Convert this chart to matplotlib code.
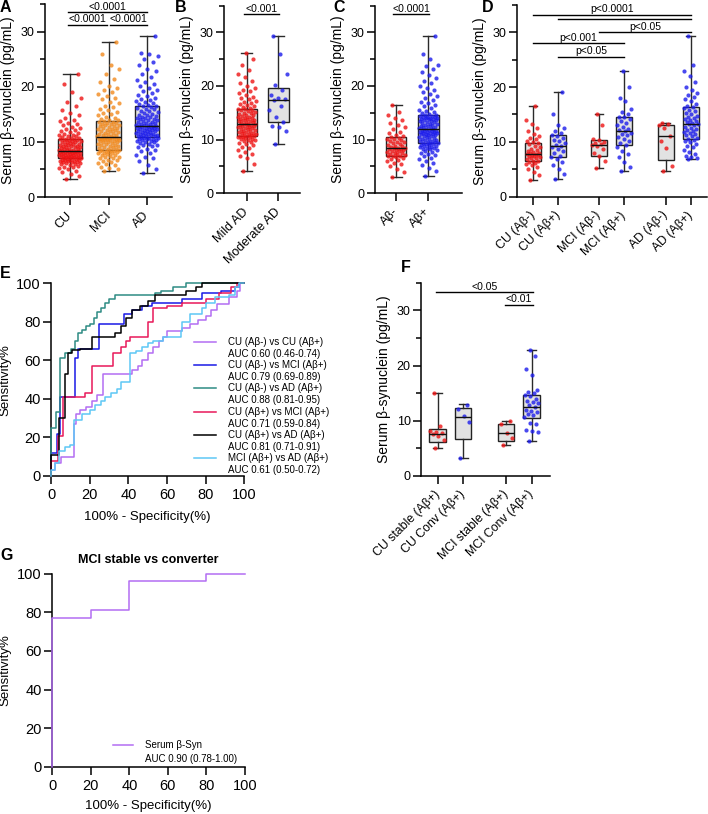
import numpy as np
import matplotlib
matplotlib.use("Agg")
import matplotlib.pyplot as plt
from matplotlib.ticker import MultipleLocator

plt.rcParams['font.family'] = ['Liberation Sans', 'DejaVu Sans']

# Figure size in pixels (dpi 100)
W, H = 708, 814

RED = '#ee1414'
ORANGE = '#f28a1e'
BLUE = '#1c1cec'

# ---------------- Panel A: CU / MCI / AD ----------------
a_labels = ['CU', 'MCI', 'AD']
a_cu = [3.3, 3.8, 4.2, 4.5, 4.8, 5.0, 5.2, 5.4, 5.5, 5.7, 5.8, 5.9, 6.0, 6.1, 6.2, 6.3, 6.3, 6.4, 6.5, 6.5,
        6.6, 6.7, 6.7, 6.8, 6.8, 6.9, 6.9, 7.0, 7.0, 7.1, 7.1, 7.2, 7.2, 7.3, 7.3, 7.4, 7.4, 7.5, 7.5, 7.5,
        7.6, 7.6, 7.7, 7.7, 7.8, 7.8, 7.9, 7.9, 8.0, 8.0, 8.0, 8.1, 8.1, 8.2, 8.2, 8.2, 8.3, 8.3, 8.4, 8.4,
        8.5, 8.5, 8.6, 8.7, 8.7, 8.8, 8.9, 9.0, 9.0, 9.1, 9.2, 9.3, 9.3, 9.4, 9.5, 9.6, 9.6, 9.7, 9.8, 9.9,
        10.0, 10.0, 10.1, 10.2, 10.3, 10.3, 10.4, 10.5, 10.5, 10.6, 10.7, 10.8, 10.9, 11.0, 11.1, 11.2, 11.3,
        11.5, 11.6, 11.8, 12.0, 12.1, 12.3, 12.5, 12.7, 13.0, 13.2, 13.5, 13.8, 14.0, 14.3, 14.8, 15.2, 15.8,
        16.5, 17.2, 18.0, 19.0, 20.5, 22.4]
a_mci = [4.7, 5.0, 5.3, 5.5, 5.8, 6.0, 6.2, 6.4, 6.5, 6.7, 6.8, 7.0, 7.1, 7.2, 7.3, 7.5, 7.6, 7.7, 7.8, 7.9,
         8.0, 8.0, 8.1, 8.2, 8.3, 8.3, 8.4, 8.5, 8.5, 8.6, 8.7, 8.8, 8.9, 9.0, 9.1, 9.2, 9.3, 9.4, 9.5, 9.6,
         9.7, 9.8, 9.9, 10.0, 10.0, 10.1, 10.2, 10.3, 10.3, 10.4, 10.5, 10.5, 10.6, 10.6, 10.7, 10.7, 10.8,
         10.8, 10.8, 10.9, 10.9, 11.0, 11.1, 11.2, 11.3, 11.4, 11.5, 11.6, 11.7, 11.8, 11.9, 12.0, 12.1, 12.2,
         12.3, 12.4, 12.5, 12.6, 12.7, 12.8, 12.9, 13.0, 13.1, 13.2, 13.3, 13.4, 13.5, 13.6, 13.7, 13.8, 13.9,
         14.0, 14.2, 14.4, 14.6, 14.8, 15.0, 15.2, 15.5, 15.8, 16.0, 16.3, 16.6, 17.0, 17.3, 17.7, 18.0, 18.3,
         18.7, 19.0, 19.4, 19.8, 20.2, 20.8, 21.5, 22.3, 23.2, 24.0, 26.0, 28.2]
a_ad = [4.3, 5.0, 5.8, 6.5, 7.0, 7.3, 7.7, 8.0, 8.3, 8.6, 8.8, 9.0, 9.2, 9.4, 9.5, 9.7, 9.8, 9.9, 10.0, 10.1,
        10.2, 10.3, 10.4, 10.5, 10.6, 10.6, 10.7, 10.8, 10.8, 10.9, 11.0, 11.0, 11.1, 11.2, 11.2, 11.3, 11.4,
        11.5, 11.5, 11.6, 11.7, 11.8, 11.8, 11.9, 12.0, 12.0, 12.1, 12.2, 12.3, 12.3, 12.4, 12.5, 12.5, 12.6,
        12.7, 12.7, 12.8, 12.8, 12.9, 12.9, 13.0, 13.1, 13.2, 13.3, 13.4, 13.5, 13.6, 13.7, 13.8, 13.9, 14.0,
        14.1, 14.2, 14.3, 14.4, 14.5, 14.6, 14.7, 14.8, 14.9, 15.0, 15.2, 15.4, 15.6, 15.7, 15.9, 16.0, 16.2,
        16.3, 16.5, 16.6, 16.7, 16.9, 17.0, 17.2, 17.4, 17.6, 17.8, 18.0, 18.3, 18.6, 18.9, 19.2, 19.5, 19.8,
        20.1, 20.5, 20.9, 21.3, 21.8, 22.3, 22.8, 23.3, 24.0, 24.5, 25.0, 25.6, 26.0, 26.2, 29.3]
# box statistics (min, Q1, median, Q3, max)
a_min = [3.3, 4.7, 4.3]
a_q1 = [7.1, 8.6, 10.9]
a_med = [8.4, 10.85, 12.9]
a_q3 = [10.6, 13.8, 16.5]
a_max = [22.4, 28.2, 29.3]

# ---------------- Panel B: Mild / Moderate AD ----------------
b_labels = ['Mild AD', 'Moderate AD']
b_mild = [4.2, 5.5, 6.5, 7.0, 7.3, 7.7, 8.0, 8.4, 8.7, 9.0, 9.2, 9.4, 9.6, 9.8, 9.9, 10.0, 10.1, 10.2, 10.3,
          10.4, 10.5, 10.5, 10.6, 10.6, 10.7, 10.8, 10.9, 11.0, 11.1, 11.2, 11.3, 11.4, 11.5, 11.6, 11.7, 11.8,
          11.9, 12.0, 12.1, 12.2, 12.3, 12.4, 12.5, 12.6, 12.7, 12.8, 12.8, 12.9, 12.9, 13.0, 13.1, 13.2, 13.3,
          13.4, 13.5, 13.6, 13.7, 13.8, 13.9, 14.0, 14.1, 14.2, 14.3, 14.4, 14.5, 14.6, 14.8, 14.9, 15.0, 15.2,
          15.3, 15.5, 15.6, 15.7, 15.8, 15.9, 16.0, 16.2, 16.4, 16.6, 16.8, 17.0, 17.2, 17.5, 17.8, 18.0, 18.3,
          18.6, 19.0, 19.3, 19.7, 20.0, 20.5, 21.0, 21.6, 22.2, 23.0, 24.0, 25.0, 26.1]
b_moderate = [9.1, 11.6, 12.4, 12.6, 13.3, 14.3, 15.5, 16.3, 17.4, 17.6, 17.8, 18.3, 19.3, 20.2, 22.2, 26.0, 29.3]
b_min = [4.2, 9.1]
b_q1 = [10.7, 13.2]
b_med = [13.0, 17.4]
b_q3 = [15.8, 19.7]
b_max = [26.1, 29.3]

# ---------------- Panel C: Abeta- / Abeta+ ----------------
c_labels = ['Aβ-', 'Aβ+']
c_neg = [3.1, 4.0, 4.6, 5.0, 5.4, 5.7, 6.0, 6.2, 6.4, 6.6, 6.8, 6.9, 7.0, 7.0, 7.1, 7.3, 7.4, 7.5, 7.6, 7.7,
         7.8, 7.9, 8.0, 8.1, 8.2, 8.3, 8.4, 8.4, 8.5, 8.6, 8.8, 8.9, 9.0, 9.2, 9.3, 9.5, 9.6, 9.8, 10.0, 10.1,
         10.2, 10.3, 10.4, 10.6, 10.9, 11.2, 11.5, 11.9, 12.3, 12.7, 13.1, 13.6, 14.0, 14.6, 15.2, 16.5]
c_pos = [3.3, 4.2, 4.8, 5.2, 5.6, 6.0, 6.3, 6.6, 6.9, 7.1, 7.3, 7.5, 7.7, 7.9, 8.0, 8.2, 8.3, 8.4, 8.5, 8.6,
         8.7, 8.8, 8.9, 9.0, 9.0, 9.1, 9.2, 9.3, 9.3, 9.4, 9.5, 9.6, 9.7, 9.8, 9.9, 10.0, 10.1, 10.2, 10.3,
         10.4, 10.5, 10.6, 10.7, 10.8, 10.9, 11.0, 11.0, 11.1, 11.2, 11.3, 11.3, 11.4, 11.5, 11.5, 11.6, 11.7,
         11.7, 11.8, 11.8, 11.9, 12.0, 12.1, 12.2, 12.3, 12.4, 12.5, 12.6, 12.7, 12.8, 12.9, 13.0, 13.1, 13.2,
         13.3, 13.4, 13.5, 13.6, 13.7, 13.8, 13.8, 13.9, 14.0, 14.0, 14.1, 14.2, 14.2, 14.3, 14.4, 14.4, 14.5,
         14.6, 14.8, 15.0, 15.2, 15.4, 15.6, 15.9, 16.2, 16.5, 16.8, 17.1, 17.4, 17.8, 18.1, 18.5, 18.9, 19.2,
         19.6, 20.0, 20.5, 21.0, 21.5, 22.0, 22.6, 23.2, 23.8, 24.0, 25.0, 26.0, 29.3]
c_min = [3.1, 3.3]
c_q1 = [7.0, 9.4]
c_med = [8.4, 11.9]
c_q3 = [10.4, 14.5]
c_max = [16.5, 29.3]

# ---------------- Panel D: groups by amyloid status ----------------
d_labels = ['CU (Aβ-)', 'CU (Aβ+)', 'MCI (Aβ-)', 'MCI (Aβ+)', 'AD (Aβ-)', 'AD (Aβ+)']
d_cu_neg = [3.1, 3.9, 4.5, 5.0, 5.4, 5.8, 6.0, 6.2, 6.4, 6.5, 6.6, 6.8, 7.0, 7.1, 7.2, 7.4, 7.5, 7.6, 7.7, 7.8,
            7.8, 7.9, 8.0, 8.1, 8.3, 8.5, 8.7, 9.0, 9.3, 9.6, 9.8, 10.0, 10.2, 10.5, 10.8, 11.0, 11.5, 12.0,
            12.5, 13.2, 14.0, 16.5]
d_cu_pos = [3.3, 4.2, 5.0, 5.8, 6.3, 6.8, 7.2, 7.5, 7.9, 8.3, 8.7, 9.0, 9.3, 9.5, 9.8, 10.1, 10.4, 10.7, 11.0,
            11.3, 11.6, 12.0, 12.6, 13.0, 15.1, 19.1]
d_mci_neg = [5.3, 6.5, 7.5, 8.0, 8.7, 9.2, 9.5, 9.6, 9.8, 10.0, 10.3, 10.6, 13.0, 15.0]
d_mci_pos = [4.7, 5.5, 6.4, 7.2, 7.8, 8.4, 9.0, 9.5, 9.8, 10.2, 10.6, 10.9, 11.2, 11.5, 11.7, 11.9, 12.1, 12.4,
             12.8, 13.1, 13.5, 13.9, 14.2, 14.5, 14.6, 15.0, 15.5, 16.0, 17.5, 18.1, 20.0, 23.0]
d_ad_neg = [4.6, 5.6, 8.8, 10.1, 11.1, 12.6, 13.1, 13.3, 13.5]
d_ad_pos = [6.9, 7.0, 7.2, 7.5, 7.8, 8.2, 8.6, 9.0, 9.3, 9.6, 9.9, 10.2, 10.4, 10.6, 10.8, 11.0, 11.2, 11.4,
            11.6, 11.8, 12.0, 12.2, 12.4, 12.6, 12.8, 13.0, 13.2, 13.3, 13.4, 13.6, 13.8, 14.0, 14.2, 14.4, 14.6,
            14.8, 15.0, 15.3, 15.6, 15.9, 16.2, 16.4, 16.6, 17.0, 17.4, 17.8, 18.2, 18.6, 19.0, 19.5, 20.0,
            21.0, 22.0, 23.0, 24.0, 29.3]
d_min = [3.1, 3.3, 5.3, 4.7, 4.6, 6.9]
d_q1 = [6.5, 7.2, 7.5, 9.5, 6.7, 10.6]
d_med = [7.8, 9.3, 9.5, 11.9, 11.1, 13.3]
d_q3 = [9.8, 11.3, 10.4, 14.6, 13.1, 16.4]
d_max = [16.5, 19.1, 15.0, 23.0, 13.5, 29.3]

# ---------------- Panel F: stable vs converters ----------------
f_labels = ['CU stable (Aβ+)', 'CU Conv (Aβ+)', 'MCI stable (Aβ+)', 'MCI Conv (Aβ+)']
f_cu_stable = [5.0, 6.5, 7.2, 7.6, 7.8, 7.9, 8.1, 9.1, 15.1]
f_cu_conv = [3.2, 9.8, 10.8, 12.1, 12.9]
f_mci_stable = [5.6, 6.8, 7.8, 9.5, 9.9]
f_mci_conv = [6.4, 8.0, 8.1, 8.3, 9.4, 9.6, 10.6, 11.0, 11.3, 11.6, 11.8, 12.0, 12.5, 12.9, 13.2, 13.4, 13.6,
              14.0, 14.5, 14.7, 15.0, 15.3, 15.5, 18.2, 19.4, 21.8, 22.9]
f_min = [5.0, 3.3, 5.6, 6.4]
f_q1 = [6.2, 6.7, 6.4, 10.5]
f_med = [7.6, 10.7, 7.8, 12.5]
f_q3 = [8.5, 12.4, 9.5, 14.7]
f_max = [15.1, 13.1, 10.0, 22.9]

# ---------------- Panel E: ROC curves ----------------
roc_labels = ['CU (Aβ-) vs CU (Aβ+)', 'CU (Aβ-) vs MCI (Aβ+)', 'CU (Aβ-) vs AD (Aβ+)',
              'CU (Aβ+) vs MCI (Aβ+)', 'CU (Aβ+) vs AD (Aβ+)', 'MCI (Aβ+) vs AD (Aβ+)']
roc_auc = ['AUC 0.60 (0.46-0.74)', 'AUC 0.79 (0.69-0.89)', 'AUC 0.88 (0.81-0.95)',
           'AUC 0.71 (0.59-0.84)', 'AUC 0.81 (0.71-0.91)', 'AUC 0.61 (0.50-0.72)']
roc_colors = ['#b36ef2', '#1a1ae6', '#2e8b84', '#e8195a', '#000000', '#5ec8f5']

purple_x = [0, 0, 2, 5, 12, 13, 15, 18, 21, 24, 27, 42, 45, 47, 50, 53, 56, 58, 60, 68, 72, 76, 80, 83, 86,
            92, 96, 98, 100]
purple_y = [0, 3, 7, 10, 27, 32, 34, 36, 39, 42, 53, 55, 57, 60, 64, 67, 70, 72, 75, 77, 79, 81, 83, 86, 89,
            93, 96, 100, 100]
blue_x = [0, 0, 3, 4.5, 12.5, 14, 25, 38, 42, 47, 52, 68, 78, 88, 95, 97, 100]
blue_y = [0, 12, 22, 41, 61, 66, 79, 84, 86, 88, 90, 92, 95, 96, 98, 100, 100]
teal_x = [0, 0, 2.5, 4.5, 7.5, 10.5, 12.5, 14, 16, 18, 20, 22, 24, 26, 28, 30, 33, 54, 57, 63, 70, 100]
teal_y = [0, 25, 33, 61, 64, 66, 70, 74, 76, 78, 79, 82, 85, 87, 90, 92, 94, 95, 96, 98, 100, 100]
crimson_x = [0, 0, 3.8, 6.4, 17.6, 21, 32, 36, 39, 41, 50, 53, 60, 68, 80, 87, 93, 96, 100]
crimson_y = [0, 7.6, 21, 41, 43, 57, 64, 67, 70, 72, 80, 87, 88, 90, 92, 95, 98, 100, 100]
black_x = [0, 0, 4, 7, 9, 11, 15, 21, 33, 36, 39, 42, 46, 50, 54, 70, 75, 78, 100]
black_y = [0, 11, 30, 53, 64, 65.5, 66, 72, 74, 78, 82, 86, 88, 91, 94, 96, 98, 100, 100]
light_x = [0, 0, 2, 4, 7, 10, 12, 16, 20, 23, 26, 28, 31, 34, 36, 41, 44, 47, 50, 53, 58, 67, 68, 72, 78, 80,
           85, 92, 95, 97, 100]
light_y = [0, 3, 7, 13, 15, 16, 29, 32, 34, 37, 39, 41, 43, 45, 49, 64, 65, 67, 69, 70, 72, 75, 80, 84, 87, 90,
           93, 94, 98, 100, 100]

# ---------------- Panel G: MCI stable vs converter ----------------
g_x = [0, 0, 20, 40, 80, 100]
g_y = [0, 77, 81, 96, 100, 100]


def make_axes(fig, left, top, right, bottom):
    # axes placed from pixel box (left, top, right, bottom)
    ax = fig.add_axes([left / W, 1 - bottom / H, (right - left) / W, (bottom - top) / H])
    ax.spines['top'].set_visible(False)
    ax.spines['right'].set_visible(False)
    ax.spines['left'].set_linewidth(1.1)
    ax.spines['bottom'].set_linewidth(1.1)
    ax.tick_params(which='major', direction='out', length=6, width=1.1, pad=1.5, labelsize=9)
    ax.tick_params(which='minor', direction='out', length=3.3, width=1.1)
    return ax


def box_panel(ax, positions, groups, colors, mins, q1s, meds, q3s, maxs, labels, xlim, width_px):
    stats = [dict(whislo=a, q1=b, med=c, q3=d, whishi=e) for a, b, c, d, e in zip(mins, q1s, meds, q3s, maxs)]
    bp = ax.bxp(stats, positions=positions, widths=0.64, showfliers=False, patch_artist=True,
                capwidths=0.34, zorder=1,
                boxprops=dict(facecolor='#e2e2e2', edgecolor='#222222', linewidth=1.0),
                whiskerprops=dict(color='#2a2a2a', linewidth=1.0),
                capprops=dict(color='#2a2a2a', linewidth=1.0),
                medianprops=dict(color='#111111', linewidth=1.0))
    for m in bp['medians']:
        m.set_zorder(4)
    for pos, vals, col in zip(positions, groups, colors):
        vals = np.asarray(vals)
        # spread the dots across the box width (deterministic, golden ratio sequence)
        offs = ((np.arange(len(vals)) * 0.618034 + 0.3) % 1 - 0.5) * 0.58
        ax.scatter(pos + offs, vals, s=9, color=col, alpha=0.8, linewidths=0, zorder=3)

    ax.set_xlim(*xlim)
    ax.set_ylim(0, 35)
    ax.set_yticks([0, 10, 20, 30])
    ax.yaxis.set_minor_locator(MultipleLocator(5))
    ax.set_xticks(positions)
    ax.set_xticklabels(labels, rotation=45, ha='right', va='center', rotation_mode='anchor', fontsize=9)
    ax.tick_params(axis='x', pad=6)
    ax.set_ylabel('Serum β-synuclein (pg/mL)', fontsize=10)
    ax.yaxis.set_label_coords(-30 / width_px, 0.5)


def bracket(ax, x0, x1, y, label):
    ax.plot([x0, x1], [y, y], color='black', lw=1.0, clip_on=False, zorder=5)
    if label:
        ax.text((x0 + x1) / 2, y + 0.45, label, ha='center', va='baseline', fontsize=7.5, clip_on=False)


def panel_letter(fig, x, y, letter):
    fig.text(x / W, 1 - y / H, letter, fontsize=11.5, fontweight='bold', ha='left', va='center')


def main():
    fig = plt.figure(figsize=(W / 100, H / 100), dpi=100)

    # A
    ax = make_axes(fig, 45, 4.2, 172, 197)
    box_panel(ax, [0, 1, 2], [a_cu, a_mci, a_ad], [RED, ORANGE, BLUE],
              a_min, a_q1, a_med, a_q3, a_max, a_labels, (-0.65, 2.65), 127)
    bracket(ax, -0.05, 2.0, 33.5, '<0.0001')
    bracket(ax, -0.05, 0.95, 31.3, '<0.0001')
    bracket(ax, 1.05, 2.0, 31.3, '<0.0001')

    # B
    ax = make_axes(fig, 224.3, 5.5, 300, 193.3)
    box_panel(ax, [0, 1], [b_mild, b_moderate], [RED, BLUE],
              b_min, b_q1, b_med, b_q3, b_max, b_labels, (-0.707, 1.68), 75.7)
    bracket(ax, -0.08, 1.03, 33.4, '<0.001')

    # C
    ax = make_axes(fig, 375, 5.5, 461.7, 193.3)
    box_panel(ax, [0, 1], [c_neg, c_pos], [RED, BLUE],
              c_min, c_q1, c_med, c_q3, c_max, c_labels, (-0.65, 2.03), 86.7)
    bracket(ax, -0.08, 1.03, 33.4, '<0.0001')

    # D
    d_pos = [0, 1, 2.63, 3.63, 5.3, 6.3]
    ax = make_axes(fig, 516.7, 4.9, 706.7, 196.7)
    box_panel(ax, d_pos, [d_cu_neg, d_cu_pos, d_mci_neg, d_mci_pos, d_ad_neg, d_ad_pos],
              [RED, BLUE, RED, BLUE, RED, BLUE],
              d_min, d_q1, d_med, d_q3, d_max, d_labels, (-0.66, 6.94), 190)
    ax.tick_params(axis='x', labelsize=8.8)
    bracket(ax, d_pos[0], d_pos[5], 33.2, 'p<0.0001')
    bracket(ax, d_pos[1], d_pos[5], 32.4, '')
    bracket(ax, d_pos[2], d_pos[5], 30.0, 'p<0.05')
    bracket(ax, d_pos[0], d_pos[3], 28.0, 'p<0.001')
    bracket(ax, d_pos[1], d_pos[3], 25.5, 'p<0.05')

    # F
    f_pos = [0, 1, 2.67, 3.67]
    ax = make_axes(fig, 421, 282.7, 550, 476)
    box_panel(ax, f_pos, [f_cu_stable, f_cu_conv, f_mci_stable, f_mci_conv], [RED, BLUE, RED, BLUE],
              f_min, f_q1, f_med, f_q3, f_max, f_labels, (-0.65, 4.39), 129)
    ax.tick_params(axis='x', labelsize=8.8)
    bracket(ax, -0.05, 3.72, 33.3, '<0.05')
    bracket(ax, 2.62, 3.72, 31.0, '<0.01')

    # E - ROC curves
    ax = make_axes(fig, 51, 283.3, 244.3, 476)
    curves = [(purple_x, purple_y), (blue_x, blue_y), (teal_x, teal_y),
              (crimson_x, crimson_y), (black_x, black_y), (light_x, light_y)]
    for (xs, ys), col in zip(curves, roc_colors):
        ax.plot(xs, ys, drawstyle='steps-post', color=col, lw=1.1, clip_on=False, zorder=3)
    ax.set_xlim(0, 100)
    ax.set_ylim(0, 100)
    ax.set_xticks(np.arange(0, 101, 20))
    ax.set_yticks(np.arange(0, 101, 20))
    ax.tick_params(labelsize=10.5)
    ax.tick_params(axis='x', pad=3)
    ax.set_xlabel('100% - Specificity(%)', fontsize=9.5)
    ax.xaxis.set_label_coords(0.5, -0.18)
    ax.set_ylabel('Sensitivity%', fontsize=9.5)
    ax.yaxis.set_label_coords(-39.3 / 193.3, 0.5)
    # legend drawn by hand: handle aligned with first text line
    for i, (lab, auc, col) in enumerate(zip(roc_labels, roc_auc, roc_colors)):
        yy = 69.7 - 12.1 * i
        ax.plot([74.1, 85.4], [yy, yy], color=col, lw=1.1, clip_on=False)
        ax.text(91.4, yy, lab, fontsize=7, va='center', ha='left', clip_on=False)
        ax.text(91.4, yy - 6.2, auc, fontsize=7, va='center', ha='left', clip_on=False)

    # G - single ROC
    ax = make_axes(fig, 52.3, 573.7, 245, 766.7)
    ax.plot(g_x, g_y, drawstyle='steps-post', color='#b36ef2', lw=1.1, clip_on=False, zorder=3)
    ax.set_xlim(0, 100)
    ax.set_ylim(0, 100)
    ax.set_xticks(np.arange(0, 101, 20))
    ax.set_yticks(np.arange(0, 101, 20))
    ax.tick_params(labelsize=10.5)
    ax.tick_params(axis='x', pad=3)
    ax.set_xlabel('100% - Specificity(%)', fontsize=9.5)
    ax.xaxis.set_label_coords(0.5, -0.173)
    ax.set_ylabel('Sensitivity%', fontsize=9.5)
    ax.yaxis.set_label_coords(-40.6 / 192.7, 0.5)
    ax.set_title('MCI stable vs converter', fontsize=9, fontweight='bold', pad=8)
    ax.plot([31.7, 42.0], [11.2, 11.2], color='#b36ef2', lw=1.1)
    ax.text(48.1, 11.2, 'Serum β-Syn', fontsize=7, va='center', ha='left')
    ax.text(48.1, 3.8, 'AUC 0.90 (0.78-1.00)', fontsize=7, va='center', ha='left')

    # panel letters
    panel_letter(fig, 0, 8, 'A')
    panel_letter(fig, 175, 8, 'B')
    panel_letter(fig, 333, 8, 'C')
    panel_letter(fig, 482, 8, 'D')
    panel_letter(fig, 0, 273, 'E')
    panel_letter(fig, 401, 268, 'F')
    panel_letter(fig, 0, 556, 'G')

    fig.savefig('out.png', dpi=100)


if __name__ == "__main__":
    main()
